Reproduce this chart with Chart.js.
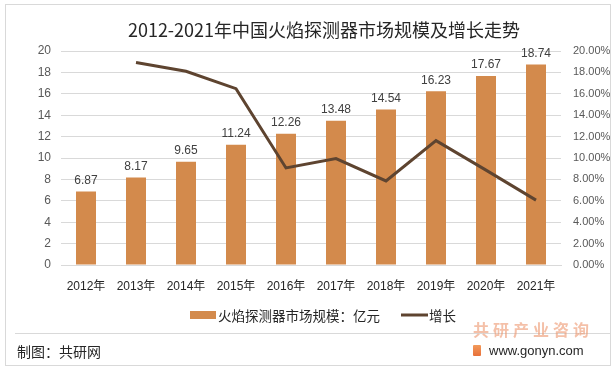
<!DOCTYPE html>
<html><head><meta charset="utf-8">
<script src="https://cdn.jsdelivr.net/npm/chart.js@4.4.1/dist/chart.umd.min.js"></script>
<style>
html,body{margin:0;padding:0;background:#fff;}
#wrap{position:relative;width:615px;height:372px;overflow:hidden;background:#fff;}
#c{position:absolute;left:0;top:0;}
.frame{position:absolute;left:5px;top:4px;width:606px;height:362px;border:1px solid #d9d9d9;box-sizing:border-box;pointer-events:none;}
.title{position:absolute;left:0;width:648px;top:18px;line-height:22px;text-align:center;font-family:"Noto Sans CJK SC",sans-serif;font-size:18px;color:#262626;white-space:nowrap;}
.sep{position:absolute;left:15px;top:333px;width:595px;height:1px;background:#d9d9d9;}
.src{position:absolute;left:17px;top:341px;line-height:20px;font-family:"Noto Sans CJK SC",sans-serif;font-size:14px;color:#262626;white-space:nowrap;}
.brand{position:absolute;left:473px;top:319px;line-height:20px;font-family:"Noto Sans CJK SC",sans-serif;font-weight:bold;font-size:16px;letter-spacing:4px;color:rgba(236,150,110,0.6);white-space:nowrap;}
.icon{position:absolute;left:473px;top:345px;width:8px;height:11px;background:linear-gradient(180deg,#f29a5a,#e8703a);border-radius:1px;}
.url{position:absolute;left:489px;top:341px;line-height:20px;font-family:"Liberation Sans",sans-serif;font-size:13px;color:#262626;white-space:nowrap;}
</style>
</head><body>
<div id="wrap">
<canvas id="c" width="615" height="372"></canvas>
<div class="title">2012-2021年中国火焰探测器市场规模及增长走势</div>
<div class="sep"></div>
<div class="src">制图：共研网</div>
<div class="brand">共研产业咨询</div>
<div class="icon"></div>
<div class="url">www.gonyn.com</div>
<div class="frame"></div>
</div>
<script>
// ---- data ----
const years = ['2012年','2013年','2014年','2015年','2016年','2017年','2018年','2019年','2020年','2021年'];
const marketSize = [6.87, 8.17, 9.65, 11.24, 12.26, 13.48, 14.54, 16.23, 17.67, 18.74];
const growthPct = [null, 18.92, 18.11, 16.48, 9.07, 9.95, 7.86, 11.62, 8.87, 6.06];
const sizeLabel = '火焰探测器市场规模：亿元';
const growthLabel = '增长';
const leftAxisMax = 20, rightAxisMax = 20, tickStep = 2;

const BAR_COLOR = '#D38A4C';
const LINE_COLOR = '#5E4430';
const NUM_FONT = "'Liberation Sans','Noto Sans CJK SC',sans-serif";
const CJK_FONT = "'Noto Sans CJK SC',sans-serif";

const barLabels = {
  id: 'barLabels',
  afterDatasetsDraw(chart) {
    const ctx = chart.ctx;
    const meta = chart.getDatasetMeta(0);
    ctx.save();
    ctx.font = '12px ' + NUM_FONT;
    ctx.fillStyle = '#404040';
    ctx.textAlign = 'center';
    ctx.textBaseline = 'bottom';
    meta.data.forEach((el, i) => {
      ctx.fillText(chart.data.datasets[0].data[i].toFixed(2), el.x, el.y - 5);
    });
    ctx.restore();
  }
};

const customLegend = {
  id: 'customLegend',
  afterDraw(chart) {
    const ctx = chart.ctx;
    const ds = chart.data.datasets;
    const y = 315;
    ctx.save();
    ctx.font = '13.5px ' + CJK_FONT;
    ctx.textBaseline = 'middle';
    ctx.fillStyle = ds[0].backgroundColor;
    ctx.fillRect(190, y - 4, 26, 8);
    ctx.fillStyle = '#262626';
    ctx.fillText(ds[0].label, 218, y + 1);
    ctx.strokeStyle = ds[1].borderColor;
    ctx.lineWidth = 3;
    ctx.beginPath();
    ctx.moveTo(401, y);
    ctx.lineTo(428, y);
    ctx.stroke();
    ctx.fillText(ds[1].label, 429, y + 1);
    ctx.restore();
  }
};

new Chart(document.getElementById('c'), {
  data: {
    labels: years,
    datasets: [
      {
        type: 'bar',
        label: sizeLabel,
        data: marketSize,
        backgroundColor: BAR_COLOR,
        borderWidth: 0,
        barPercentage: 0.8,
        categoryPercentage: 0.5,
        yAxisID: 'y',
        order: 2
      },
      {
        type: 'line',
        label: growthLabel,
        data: growthPct,
        borderColor: LINE_COLOR,
        backgroundColor: LINE_COLOR,
        borderWidth: 3,
        pointRadius: 0,
        tension: 0,
        fill: false,
        yAxisID: 'y1',
        order: 1
      }
    ]
  },
  options: {
    responsive: false,
    animation: false,
    layout: { padding: { top: 51, bottom: 77, left: 0, right: 0 } },
    plugins: {
      legend: { display: false },
      title: { display: false },
      tooltip: { enabled: false }
    },
    scales: {
      x: {
        offset: true,
        grid: { display: false, drawTicks: false },
        border: { display: true, color: '#d9d9d9' },
        ticks: { color: '#262626', padding: 14, font: { size: 12, family: NUM_FONT } },
        afterFit(s) { s.height = 30; }
      },
      y: {
        position: 'left',
        min: 0, max: leftAxisMax,
        ticks: { stepSize: tickStep, color: '#595959', padding: 10, font: { size: 12, family: NUM_FONT } },
        grid: { color: '#d9d9d9', drawTicks: false },
        border: { display: false },
        afterFit(s) { s.width = 61; }
      },
      y1: {
        position: 'right',
        min: 0, max: rightAxisMax,
        ticks: { stepSize: tickStep, color: '#595959', padding: 12, font: { size: 11, family: NUM_FONT },
                 callback: v => v.toFixed(2) + '%' },
        grid: { display: false, drawTicks: false },
        border: { display: false },
        afterFit(s) { s.width = 54; }
      }
    }
  },
  plugins: [barLabels, customLegend]
});
</script>
</body></html>
